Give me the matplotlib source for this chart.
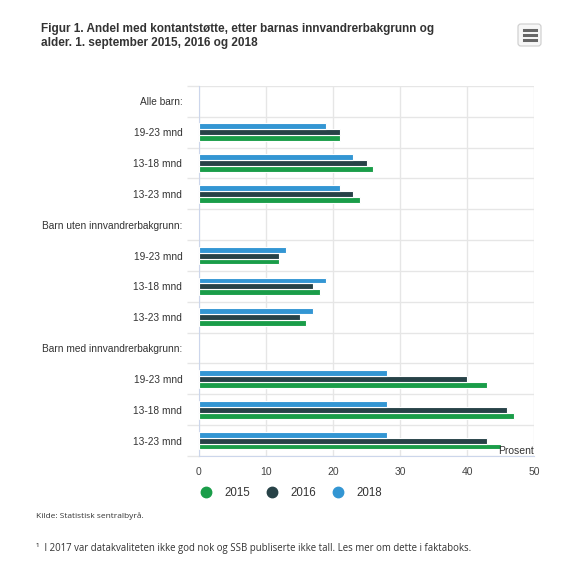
import matplotlib
matplotlib.use("Agg")
import matplotlib.pyplot as plt
from matplotlib.lines import Line2D
from matplotlib.patches import FancyBboxPatch
import numpy as np

categories = ["Alle barn:", "19-23 mnd", "13-18 mnd", "13-23 mnd",
              "Barn uten innvandrerbakgrunn:", "19-23 mnd", "13-18 mnd", "13-23 mnd",
              "Barn med innvandrerbakgrunn:", "19-23 mnd", "13-18 mnd", "13-23 mnd"]
v2015 = [None, 21, 26, 24, None, 12, 18, 16, None, 43, 47, 45]
v2016 = [None, 21, 25, 23, None, 12, 17, 15, None, 40, 46, 43]
v2018 = [None, 19, 23, 21, None, 13, 19, 17, None, 28, 28, 28]
series_names = ["2015", "2016", "2018"]
colors = ["#1a9d49", "#274247", "#3396d3"]
xticks = [0, 10, 20, 30, 40, 50]

plt.rcParams['font.family'] = ['Liberation Sans', 'DejaVu Sans']

W, H = 565, 566
fig = plt.figure(figsize=(W/100, H/100), dpi=100)
ax = fig.add_axes([199/W, 1-456/H, (534-199)/W, (456-86)/H])

y = np.arange(len(categories))
bh = 0.19
offsets = [bh, 0, -bh]  # 2015 bottom, 2016 middle, 2018 top
for vals, off, col in zip([v2015, v2016, v2018], offsets, colors):
    vv = np.array([np.nan if v is None else v for v in vals], dtype=float)
    ax.barh(y + off, vv, height=bh, color=col, edgecolor='white', linewidth=0.8, zorder=3)

ax.set_ylim(len(categories)-0.5, -0.5)
ax.set_xlim(0, 50)
ax.set_xticks(xticks)
ax.set_xticklabels([str(t) for t in xticks], fontsize=7.5, color='#444444')
ax.set_yticks(y)
ax.set_yticklabels(categories, fontsize=7.3, color='#333333')
ax.set_yticks(np.arange(len(categories)+1)-0.5, minor=True)
ax.tick_params(axis='y', which='major', length=0, pad=12)
ax.tick_params(axis='y', which='minor', length=9, color='#e6e6e6', width=1)
ax.tick_params(axis='x', which='major', length=0, pad=8)
ax.grid(axis='x', which='major', color='#e6e6e6', linewidth=1, zorder=0)
ax.grid(axis='y', which='minor', color='#e6e6e6', linewidth=1, zorder=0)
for s in ['top', 'right']:
    ax.spines[s].set_visible(False)
ax.spines['left'].set_color('#ccd6eb')
ax.spines['bottom'].set_color('#ccd6eb')
ax.set_axisbelow(True)

ax.text(50, len(categories)-0.5, "Prosent", ha='right', va='bottom', fontsize=7.5, color='#333333')

handles = [Line2D([0], [0], marker='o', linestyle='none', markersize=7.5,
                  markerfacecolor=c, markeredgecolor=c) for c in colors]
fig.legend(handles, series_names, loc='center', bbox_to_anchor=(288/W, 1-493/H),
           ncol=3, frameon=False, fontsize=8.3, handletextpad=0.6, columnspacing=0.9,
           labelcolor='#333333')

fig.text(41/W, 1-36/H, "Figur 1. Andel med kontantstøtte, etter barnas innvandrerbakgrunn og\nalder. 1. september 2015, 2016 og 2018",
         ha='left', va='center', fontsize=8.5, fontweight='bold', color='#333333', linespacing=1.25)

fig.text(36/W, 1-516/H, "Kilde: Statistisk sentralbyrå.", ha='left', va='center',
         fontsize=6, color='#333333', family=['Open Sans', 'DejaVu Sans'])
fig.text(36/W, 1-548/H, "¹  I 2017 var datakvaliteten ikke god nok og SSB publiserte ikke tall. Les mer om dette i faktaboks.",
         ha='left', va='center', fontsize=6.9, color='#333333', family=['Open Sans', 'DejaVu Sans'])

# menu button
btn = FancyBboxPatch((518/W, 1-46/H), 23/W, 22/H, boxstyle="round,pad=0,rounding_size=0.005",
                     transform=fig.transFigure, facecolor='#f7f7f7', edgecolor='#cccccc', linewidth=0.8)
fig.patches.append(btn)
for yy in [30, 35, 40]:
    fig.lines.append(Line2D([524/W, 536/W], [1-yy/H, 1-yy/H], transform=fig.transFigure,
                            color='#666666', linewidth=2.2))

fig.savefig("out.png", dpi=100, facecolor='white')
